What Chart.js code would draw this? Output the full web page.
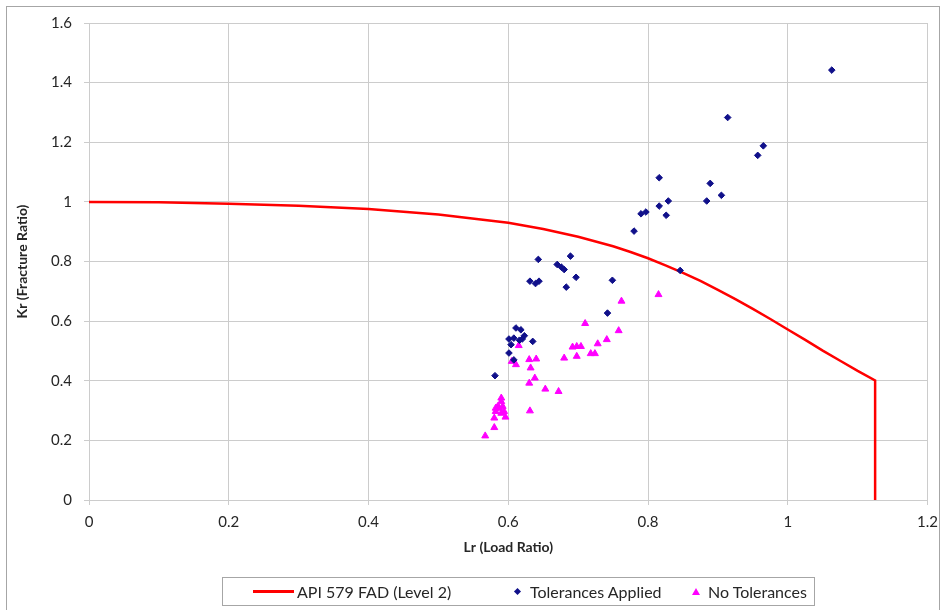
<!DOCTYPE html>
<html><head><meta charset="utf-8">
<script src="https://cdn.jsdelivr.net/npm/chart.js@4.4.0/dist/chart.umd.min.js"></script>
<style>
html,body{margin:0;padding:0;background:#fff;width:942px;height:610px;overflow:hidden;}
#frame{position:absolute;left:6px;top:6px;width:934px;height:620px;border:1px solid #a6a6a6;box-sizing:border-box;}
#c{position:absolute;left:0;top:0;}
#legend{position:absolute;left:222px;top:577px;width:593px;height:29px;border:1px solid #a6a6a6;box-sizing:border-box;font-family:Lato,"Liberation Sans",sans-serif;font-size:16px;color:#262626;}
#legend .it{position:absolute;top:0;height:27px;line-height:27px;white-space:nowrap;}
#legend .mk{position:absolute;}
</style></head>
<body>
<div id="frame"></div>
<canvas id="c" width="946" height="610"></canvas>
<div id="legend"></div>
<script>
// API 579 FAD (Level 2) curve
const fadLr = [0, 0.1, 0.2, 0.3, 0.4, 0.5, 0.6, 0.65, 0.7, 0.75, 0.775, 0.8, 0.825, 0.85, 0.875, 0.9, 0.925, 0.95, 0.975, 1.0, 1.025, 1.05, 1.075, 1.1, 1.125, 1.125];
const fadKr = [1.0, 0.999, 0.994, 0.987, 0.976, 0.958, 0.930, 0.909, 0.883, 0.851, 0.832, 0.811, 0.787, 0.762, 0.735, 0.705, 0.674, 0.641, 0.607, 0.572, 0.537, 0.501, 0.467, 0.433, 0.401, 0];

// Tolerances Applied
const tolLr = [0.581, 0.601, 0.608, 0.604, 0.601, 0.608, 0.611, 0.618, 0.623, 0.616, 0.620, 0.635,
  0.631, 0.639, 0.644, 0.643, 0.670, 0.676, 0.680, 0.683, 0.689, 0.697, 0.742, 0.749,
  0.780, 0.790, 0.797, 0.816, 0.826, 0.829, 0.816, 0.846, 0.884, 0.889, 0.905, 0.914, 0.957, 0.965, 1.063];
const tolKr = [0.417, 0.493, 0.470, 0.521, 0.540, 0.543, 0.577, 0.571, 0.551, 0.536, 0.540, 0.532,
  0.734, 0.726, 0.734, 0.807, 0.790, 0.781, 0.773, 0.714, 0.818, 0.747, 0.627, 0.737,
  0.902, 0.960, 0.966, 0.986, 0.955, 1.003, 1.081, 0.770, 1.003, 1.062, 1.022, 1.283, 1.156, 1.188, 1.442];

// No Tolerances
const noTolLr = [0.567, 0.580, 0.580, 0.596, 0.590, 0.582, 0.594, 0.582, 0.587, 0.585, 0.592, 0.590, 0.590,
  0.605, 0.611, 0.615, 0.630, 0.640, 0.632, 0.638, 0.630, 0.653, 0.672, 0.631, 0.680,
  0.692, 0.698, 0.704, 0.698, 0.710, 0.718, 0.724, 0.728, 0.741, 0.758, 0.762, 0.815];
const noTolKr = [0.215, 0.243, 0.275, 0.278, 0.291, 0.297, 0.297, 0.308, 0.308, 0.314, 0.314, 0.330, 0.342,
  0.465, 0.454, 0.518, 0.471, 0.473, 0.443, 0.409, 0.392, 0.372, 0.364, 0.299, 0.476,
  0.513, 0.515, 0.515, 0.482, 0.592, 0.491, 0.491, 0.524, 0.538, 0.568, 0.667, 0.689];

const seriesNames = ['API 579 FAD (Level 2)', 'Tolerances Applied', 'No Tolerances'];
const xTitle = 'Lr (Load Ratio)';
const yTitle = 'Kr (Fracture Ratio)';

const RED = '#ff0000', NAVY = '#10108a', MAG = '#ff00ff';
const zip = (xs, ys) => xs.map((x, i) => ({x: x, y: ys[i]}));

const fontFam = 'Lato, "Liberation Sans", sans-serif';
const gridCol = '#cccccc';

new Chart(document.getElementById('c'), {
  type: 'scatter',
  data: {
    datasets: [
      {label: seriesNames[0], data: zip(fadLr, fadKr), showLine: true, borderColor: RED, backgroundColor: RED,
       borderWidth: 2.5, pointRadius: 0, tension: 0, order: 3},
      {label: seriesNames[1], data: zip(tolLr, tolKr), pointStyle: 'rectRot', pointRadius: 3.3,
       backgroundColor: NAVY, borderColor: NAVY, borderWidth: 1, order: 1},
      {label: seriesNames[2], data: zip(noTolLr, noTolKr), pointStyle: 'triangle', pointRadius: 4,
       backgroundColor: MAG, borderColor: MAG, borderWidth: 1, order: 2}
    ]
  },
  options: {
    responsive: false, animation: false, events: [],
    layout: {padding: {top: 23, right: 13, left: 0, bottom: 50}},
    plugins: {legend: {display: false}, tooltip: {enabled: false}},
    scales: {
      x: {
        type: 'linear', min: 0, max: 1.2,
        ticks: {stepSize: 0.2, padding: 8, color: '#262626', font: {family: fontFam, size: 15},
                callback: v => String(+v.toFixed(1))},
        grid: {color: gridCol, lineWidth: 1, tickLength: 5},
        border: {color: gridCol},
        title: {display: true, text: xTitle, color: '#262626', font: {family: fontFam, size: 14, weight: 'bold'},
                padding: {top: 4, bottom: 4}},
        afterFit: s => { s.height = 60; }
      },
      y: {
        type: 'linear', min: 0, max: 1.6,
        ticks: {stepSize: 0.2, padding: 12, color: '#262626', font: {family: fontFam, size: 15},
                callback: v => String(+v.toFixed(1))},
        grid: {color: gridCol, lineWidth: 1, tickLength: 5},
        border: {color: gridCol},
        title: {display: true, text: yTitle, color: '#262626', font: {family: fontFam, size: 14, weight: 'bold'},
                padding: {top: 14, bottom: 14}},
        afterFit: s => { s.width = 89; }
      }
    }
  }
});

// HTML legend built from the series names
const lg = document.getElementById('legend');
const items = [
  {name: seriesNames[0], mark: 'line', mx: 30, tx: 74},
  {name: seriesNames[1], mark: 'diamond', mx: 295, tx: 307},
  {name: seriesNames[2], mark: 'tri', mx: 473, tx: 485}
];
items.forEach(it => {
  const m = document.createElement('div');
  m.className = 'mk';
  if (it.mark === 'line') {
    Object.assign(m.style, {left: it.mx + 'px', top: '12px', width: '41px', height: '3px', background: RED});
  } else if (it.mark === 'diamond') {
    Object.assign(m.style, {left: (it.mx - 3) + 'px', top: '11px', width: '5px', height: '5px', background: NAVY, transform: 'rotate(45deg)'});
  } else {
    Object.assign(m.style, {left: (it.mx - 4) + 'px', top: '10px', width: '0', height: '0',
      borderLeft: '4px solid transparent', borderRight: '4px solid transparent', borderBottom: '7px solid ' + MAG});
  }
  lg.appendChild(m);
  const t = document.createElement('span');
  t.className = 'it';
  t.style.left = it.tx + 'px';
  t.textContent = it.name;
  lg.appendChild(t);
});
</script>
</body></html>
